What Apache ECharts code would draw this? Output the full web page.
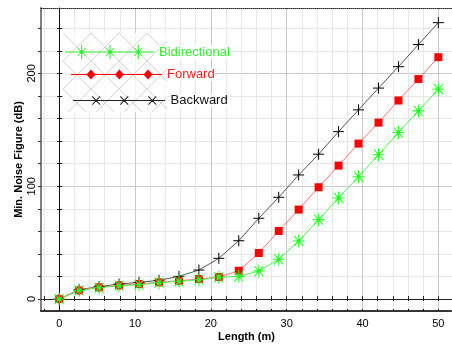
<!DOCTYPE html>
<html>
<head>
<meta charset="utf-8">
<script src="https://cdn.jsdelivr.net/npm/echarts@6/dist/echarts.min.js"></script>
<style>html,body{margin:0;padding:0;background:#fff;}#c{width:452px;height:348px;}</style>
</head>
<body>
<div id="c"></div>
<script>
// ---- data ----
var lengths = [0, 2.63, 5.26, 7.89, 10.53, 13.16, 15.79, 18.42, 21.05, 23.68, 26.32, 28.95, 31.58, 34.21, 36.84, 39.47, 42.11, 44.74, 47.37, 50];
var backward = [0, 8.3, 11, 13.3, 14.8, 16.6, 20.1, 25.7, 36.1, 51.7, 71.6, 90.2, 110, 128.4, 148.4, 167.7, 187, 206, 225.6, 245];
var forward = [0, 7.7, 10.4, 12.1, 13.3, 14.8, 16.2, 17.7, 19.5, 25.1, 40.8, 60.3, 79.3, 99.1, 118.3, 137.8, 156.4, 176, 195, 214.4];
var bidirectional = [0, 7.7, 10, 11.8, 12.7, 14.5, 15.7, 17.1, 19.3, 20.1, 24.8, 35.2, 51.5, 70.4, 89.6, 108.5, 128, 147.6, 166.8, 186];
var seriesNames = ['Bidirectional', 'Forward', 'Backward'];
var xTickLabels = [0, 10, 20, 30, 40, 50];
var yTickLabels = [0, 100, 200];
var xMinorTicks = [-2, 0, 2, 4, 6, 8, 10, 12, 14, 16, 18, 20, 22, 24, 26, 28, 30, 32, 34, 36, 38, 40, 42, 44, 46, 48, 50];
var yMinorTicks = [0, 20, 40, 60, 80, 100, 120, 140, 160, 180, 200, 220, 240];

// ---- helpers for legend icons ----
function orient(p) {
  var a = 0;
  for (var i = 0; i < p.length; i++) { var q = p[i], r = p[(i + 1) % p.length]; a += q[0] * r[1] - r[0] * q[1]; }
  return a < 0 ? p.slice().reverse() : p;
}
function rectP(x0, y0, x1, y1) { return [[x0, y0], [x1, y0], [x1, y1], [x0, y1]]; }
function segP(xa, ya, xb, yb, t) {
  var dx = xb - xa, dy = yb - ya, L = Math.sqrt(dx * dx + dy * dy), nx = -dy / L * t / 2, ny = dx / L * t / 2;
  return [[xa + nx, ya + ny], [xb + nx, yb + ny], [xb - nx, yb - ny], [xa - nx, ya - ny]];
}
function toPath(polys) {
  return 'path://' + polys.map(function (p) {
    p = orient(p);
    return 'M' + p.map(function (q) { return q[0].toFixed(2) + ',' + q[1].toFixed(2); }).join('L') + 'Z';
  }).join('');
}
function icon1(W, H, cs) {
  var P = [rectP(0, H / 2 - 0.5, W, H / 2 + 0.5)];
  cs.forEach(function (c) {
    P.push(rectP(c - 0.5, 0, c + 0.5, H));
    P.push(rectP(c - 5, H / 2 - 0.5, c + 5, H / 2 + 0.5));
    P.push(segP(c - 4, 3, c + 4, H - 3, 1));
    P.push(segP(c - 4, H - 3, c + 4, 3, 1));
    P.push(rectP(c - 1.5, H / 2 - 1.5, c + 1.5, H / 2 + 1.5));
  });
  return toPath(P);
}
function icon2(W, H, cs) {
  var P = [rectP(0, H / 2 - 0.5, W, H / 2 + 0.5)];
  cs.forEach(function (c) { P.push([[c, 0], [c + 4.5, H / 2], [c, H], [c - 4.5, H / 2]]); });
  return toPath(P);
}
function icon3(W, H, cs) {
  var P = [rectP(0, H / 2 - 0.5, W, H / 2 + 0.5)];
  cs.forEach(function (c) {
    P.push(segP(c - 4, 0.3, c + 4, H - 0.3, 1));
    P.push(segP(c - 4, H - 0.3, c + 4, 0.3, 1));
  });
  return toPath(P);
}

// hatch pattern for legend background
var pc = document.createElement('canvas');
pc.width = 28; pc.height = 28;
var g = pc.getContext('2d');
g.fillStyle = 'rgba(255,255,255,0.75)';
g.fillRect(0, 0, 28, 28);
g.strokeStyle = '#d4d4d4';
g.lineWidth = 1;
g.beginPath();
g.moveTo(0, 0); g.lineTo(28, 28);
g.moveTo(28, 0); g.lineTo(0, 28);
g.stroke();

var FONT = 'Liberation Sans, Arial, sans-serif';
var gridRect = { left: 41, right: 0, top: 8, bottom: 37, containLabel: false, outerBoundsMode: 'none' };
var X = { type: 'value', min: -2.4, max: 51.8 };
var Y = { type: 'value', min: -10.6, max: 258 };
function ext(a, b) { var o = {}; for (var k in a) o[k] = a[k]; for (var k2 in b) o[k2] = b[k2]; return o; }
var MINOR = '#e6e6e6', MAJOR = '#c9c9c9';

var asteriskPath = 'path://M0,6.5 L12,6.5 M6,0 L6,13 M1.5,1.5 L10.5,11.5 M1.5,11.5 L10.5,1.5 M4.6,5.1 L7.4,5.1 L7.4,7.9 L4.6,7.9 Z';
var plusPath = 'path://M0,5.5 L11,5.5 M5.5,0 L5.5,11';

function pairs(ys) { return lengths.map(function (x, i) { return [x, ys[i]]; }); }

var option = {
  animation: false,
  backgroundColor: '#fff',
  grid: [ext(gridRect, {}), ext(gridRect, {}), ext(gridRect, {})],
  xAxis: [
    ext(X, { gridIndex: 0, position: 'bottom',
      axisLine: { onZero: true, lineStyle: { color: '#222', width: 1 } },
      axisTick: { show: true, inside: true, length: 3, customValues: xMinorTicks, lineStyle: { color: '#222' } },
      axisLabel: { show: false },
      splitLine: { show: true, lineStyle: { color: [MINOR, MAJOR, MINOR, MINOR, MINOR], width: 1 } } }),
    ext(X, { gridIndex: 0, position: 'top',
      axisLine: { onZero: false, lineStyle: { color: '#222', width: 1, type: 'dotted' } },
      axisTick: { show: false }, axisLabel: { show: false }, splitLine: { show: false } }),
    ext(X, { gridIndex: 1, position: 'bottom', name: 'Length (m)', nameLocation: 'middle', nameGap: 20,
      nameMoveOverlap: false,
      nameTextStyle: { fontFamily: FONT, fontSize: 11, fontWeight: 'bold', color: '#000' },
      axisLine: { onZero: false, lineStyle: { color: '#333', width: 2, type: [2, 1] } },
      axisTick: { show: true, inside: true, length: 2, customValues: xMinorTicks, lineStyle: { color: '#000' } },
      axisLabel: { show: true, customValues: xTickLabels, margin: 7, fontFamily: FONT, fontSize: 11, color: '#000' },
      splitLine: { show: false } }),
    ext(X, { gridIndex: 2, position: 'bottom',
      axisLine: { show: false, onZero: true },
      axisTick: { show: true, inside: false, length: 2, customValues: xMinorTicks, lineStyle: { color: '#222' } },
      axisLabel: { show: false }, splitLine: { show: false } })
  ],
  yAxis: [
    ext(Y, { gridIndex: 0, position: 'left',
      axisLine: { show: true, onZero: true, lineStyle: { color: '#111', width: 1 } },
      axisTick: { show: true, inside: true, length: 3, customValues: yMinorTicks, lineStyle: { color: '#111' } },
      axisLabel: { show: false },
      splitLine: { show: true, lineStyle: { color: [MAJOR, MINOR, MINOR, MINOR, MINOR], width: 1 } } }),
    ext(Y, { gridIndex: 1, position: 'left', name: 'Min. Noise Figure (dB)', nameLocation: 'middle', nameGap: 17,
      nameMoveOverlap: false,
      nameTextStyle: { fontFamily: FONT, fontSize: 11, fontWeight: 'bold', color: '#000' },
      axisLine: { show: true, onZero: false, lineStyle: { color: '#808080', width: 2 } },
      axisTick: { show: true, inside: false, length: 3, customValues: yMinorTicks, lineStyle: { color: '#333' } },
      axisLabel: { show: true, customValues: yTickLabels, rotate: 90, margin: 4, fontFamily: FONT, fontSize: 11, color: '#000' },
      splitLine: { show: false } }),
    ext(Y, { gridIndex: 2, position: 'left',
      axisLine: { show: false, onZero: true },
      axisTick: { show: true, inside: false, length: 2, customValues: yMinorTicks, lineStyle: { color: '#111' } },
      axisLabel: { show: false }, splitLine: { show: false } })
  ],
  graphic: [{
    type: 'rect', left: 63, top: 33, z: 3, silent: true,
    shape: { width: 104, height: 79 },
    style: { fill: { image: pc, repeat: 'repeat' } }
  }],
  legend: [
    { data: [{ name: seriesNames[0], icon: icon1(89, 14, [16.7, 45, 73.3]), itemStyle: { color: '#22ee22', borderWidth: 0 } }],
      left: 65, top: 45, orient: 'vertical', padding: 0, itemWidth: 89, itemHeight: 14, selectedMode: false,
      textStyle: { fontFamily: FONT, fontSize: 13, color: '#33ee33', backgroundColor: '#fff' } },
    { data: [{ name: seriesNames[1], icon: icon2(91, 10, [20, 48.3, 77]), itemStyle: { color: '#ff0000', borderWidth: 0 } }],
      left: 71, top: 68, orient: 'vertical', padding: 0, itemWidth: 91, itemHeight: 10, selectedMode: false,
      textStyle: { fontFamily: FONT, fontSize: 13, color: '#ff1a1a', backgroundColor: '#fff' } },
    { data: [{ name: seriesNames[2], icon: icon3(93, 9, [23.4, 51.7, 80]), itemStyle: { color: '#222', borderWidth: 0 } }],
      left: 73, top: 94, orient: 'vertical', padding: 0, itemWidth: 93, itemHeight: 9, selectedMode: false,
      textStyle: { fontFamily: FONT, fontSize: 13, color: '#111', backgroundColor: '#fff' } }
  ],
  series: [
    { name: seriesNames[2], type: 'line', xAxisIndex: 0, yAxisIndex: 0, data: pairs(backward),
      symbol: plusPath, symbolSize: 11, showAllSymbol: true, silent: true,
      lineStyle: { color: '#555', width: 1 }, itemStyle: { color: '#000', borderColor: '#000', borderWidth: 1 } },
    { name: seriesNames[1], type: 'line', xAxisIndex: 0, yAxisIndex: 0, data: pairs(forward),
      symbol: 'rect', symbolSize: 8, showAllSymbol: true, silent: true,
      lineStyle: { color: '#ff7070', width: 1 }, itemStyle: { color: '#ff0000', borderWidth: 0 } },
    { name: seriesNames[0], type: 'line', xAxisIndex: 0, yAxisIndex: 0, data: pairs(bidirectional),
      symbol: asteriskPath, symbolSize: [12, 13], showAllSymbol: true, silent: true,
      lineStyle: { color: '#55f055', width: 1 }, itemStyle: { color: '#00c800', borderColor: '#22ff22', borderWidth: 1 } }
  ]
};
var chart = echarts.init(document.getElementById('c'), null, { renderer: 'canvas' });
chart.setOption(option);
</script>
</body>
</html>
